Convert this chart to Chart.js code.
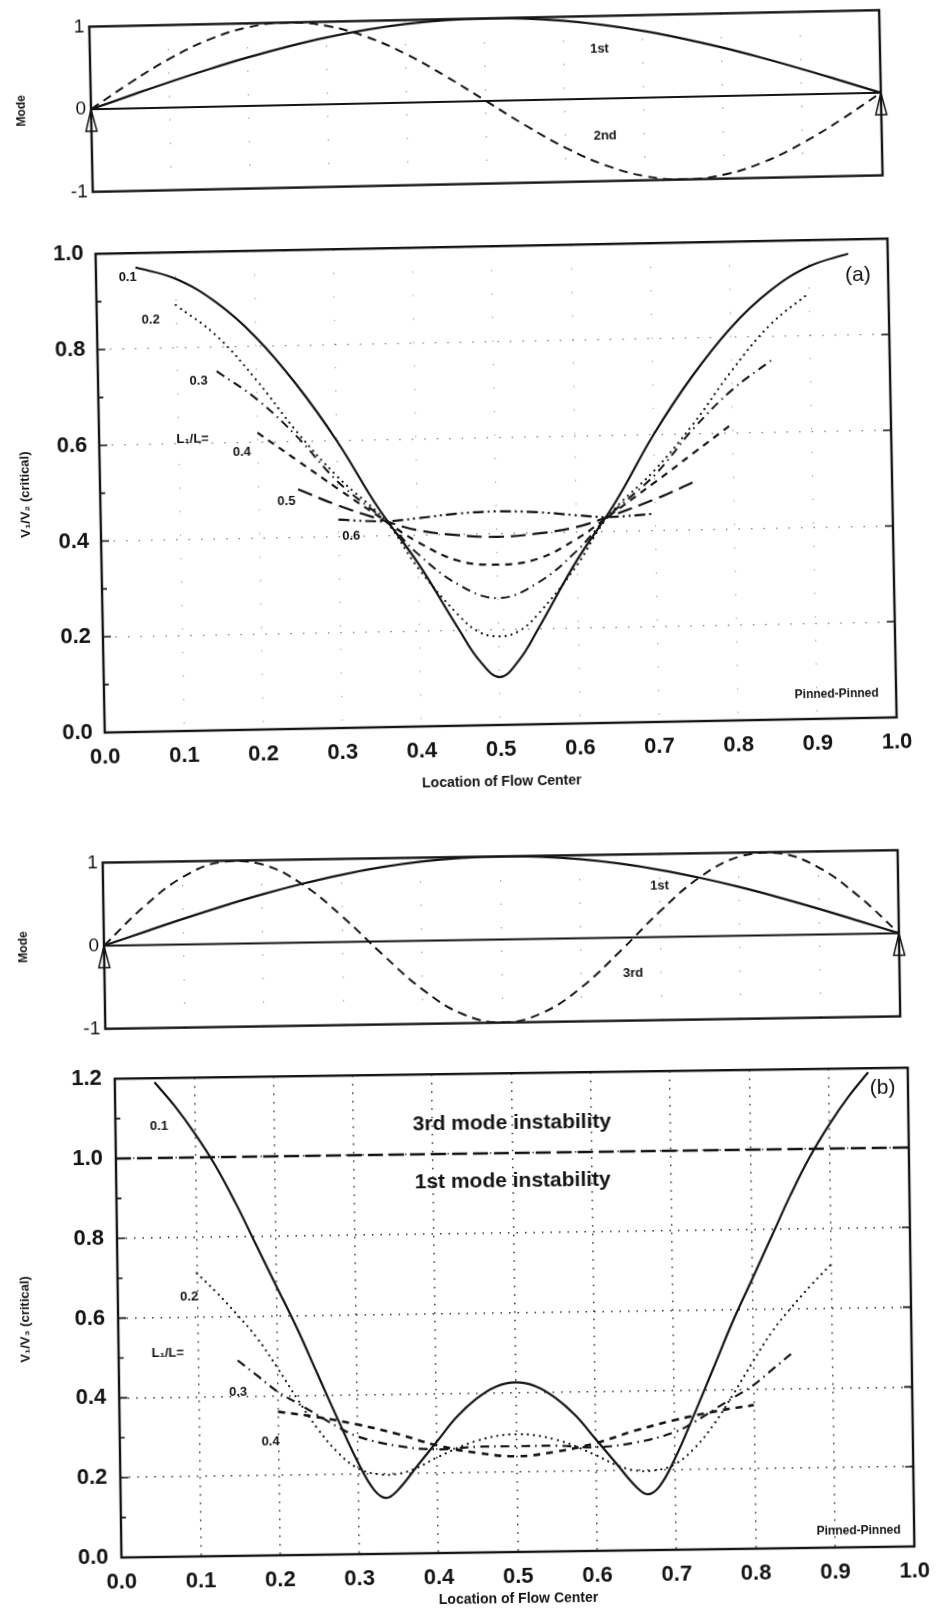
<!DOCTYPE html>
<html lang="en">
<head>
<meta charset="UTF-8">
<title>Critical velocity ratio vs. location of flow center</title>
<script src="https://cdn.jsdelivr.net/npm/chart.js@4"></script>
<style>
  body { margin: 0; background: #fff; width: 941px; height: 1620px; position: relative; overflow: hidden; }
  canvas { position: absolute; }
</style>
</head>
<body>
<canvas id="modeA"></canvas>
<canvas id="ratioA"></canvas>
<canvas id="modeB"></canvas>
<canvas id="ratioB"></canvas>
<script>
// ---- mode shapes along the span (pinned-pinned beam) ----
const spanX = [0, 0.05, 0.1, 0.15, 0.2, 0.25, 0.3, 0.35, 0.4, 0.45, 0.5, 0.55, 0.6, 0.65, 0.7, 0.75, 0.8, 0.85, 0.9, 0.95, 1];
const mode1 = [0, 0.156, 0.309, 0.454, 0.588, 0.707, 0.809, 0.891, 0.951, 0.988, 1, 0.988, 0.951, 0.891, 0.809, 0.707, 0.588, 0.454, 0.309, 0.156, 0];
const mode2 = [0, 0.309, 0.588, 0.809, 0.951, 1, 0.951, 0.809, 0.588, 0.309, 0, -0.309, -0.588, -0.809, -0.951, -1, -0.951, -0.809, -0.588, -0.309, 0];
const mode3 = [0, 0.454, 0.809, 0.988, 0.951, 0.707, 0.309, -0.156, -0.588, -0.891, -1, -0.891, -0.588, -0.156, 0.309, 0.707, 0.951, 0.988, 0.809, 0.454, 0];

// ---- (a) V1/V2 critical, one curve per L1/L ----
const ratiosA = ['0.1', '0.2', '0.3', '0.4', '0.5', '0.6'];
const a1X = [0.05, 0.1, 0.15, 0.2, 0.25, 0.3, 0.35, 0.4, 0.45, 0.475, 0.5, 0.525, 0.55, 0.6, 0.65, 0.7, 0.75, 0.8, 0.85, 0.9, 0.95];
const a1Y = [0.97, 0.945, 0.895, 0.82, 0.72, 0.60, 0.46, 0.34, 0.20, 0.135, 0.10, 0.135, 0.20, 0.34, 0.46, 0.60, 0.72, 0.82, 0.895, 0.945, 0.97];
const a2X = [0.1, 0.15, 0.2, 0.25, 0.3, 0.36, 0.4, 0.45, 0.475, 0.5, 0.525, 0.55, 0.6, 0.64, 0.7, 0.75, 0.8, 0.85, 0.9];
const a2Y = [0.89, 0.825, 0.73, 0.62, 0.525, 0.43, 0.33, 0.23, 0.195, 0.185, 0.195, 0.23, 0.33, 0.43, 0.525, 0.62, 0.73, 0.825, 0.89];
const a3X = [0.15, 0.2, 0.25, 0.3, 0.36, 0.4, 0.45, 0.5, 0.55, 0.6, 0.64, 0.7, 0.75, 0.8, 0.85];
const a3Y = [0.75, 0.69, 0.61, 0.515, 0.43, 0.36, 0.295, 0.265, 0.295, 0.36, 0.43, 0.515, 0.61, 0.69, 0.75];
const a4X = [0.2, 0.25, 0.3, 0.36, 0.4, 0.45, 0.5, 0.55, 0.6, 0.64, 0.7, 0.75, 0.8];
const a4Y = [0.62, 0.56, 0.50, 0.43, 0.385, 0.345, 0.335, 0.345, 0.385, 0.43, 0.50, 0.56, 0.62];
const a5X = [0.25, 0.3, 0.36, 0.4, 0.45, 0.5, 0.55, 0.6, 0.64, 0.7, 0.75];
const a5Y = [0.50, 0.465, 0.43, 0.41, 0.398, 0.393, 0.398, 0.41, 0.43, 0.465, 0.50];
const a6X = [0.3, 0.36, 0.4, 0.45, 0.5, 0.55, 0.6, 0.64, 0.7];
const a6Y = [0.435, 0.43, 0.435, 0.443, 0.446, 0.443, 0.435, 0.43, 0.435];

// ---- (b) V1/V3 critical ----
const ratiosB = ['0.1', '0.2', '0.3', '0.4'];
const b1X = [0.05, 0.075, 0.1, 0.125, 0.15, 0.175, 0.2, 0.225, 0.25, 0.275, 0.3, 0.32, 0.335, 0.35, 0.375, 0.4, 0.425, 0.45, 0.475, 0.5,
             0.525, 0.55, 0.575, 0.6, 0.625, 0.65, 0.665, 0.68, 0.7, 0.725, 0.75, 0.775, 0.8, 0.825, 0.85, 0.875, 0.9, 0.925, 0.95];
const b1Y = [1.19, 1.13, 1.06, 0.98, 0.885, 0.78, 0.675, 0.57, 0.455, 0.34, 0.23, 0.16, 0.14, 0.16, 0.22, 0.28, 0.34, 0.385, 0.415, 0.425,
             0.415, 0.385, 0.34, 0.28, 0.22, 0.16, 0.14, 0.16, 0.23, 0.34, 0.455, 0.57, 0.675, 0.78, 0.885, 0.98, 1.06, 1.13, 1.19];
const b2X = [0.1, 0.125, 0.15, 0.175, 0.2, 0.225, 0.25, 0.275, 0.3, 0.325, 0.35, 0.375, 0.4, 0.45, 0.5,
             0.55, 0.6, 0.625, 0.65, 0.675, 0.7, 0.725, 0.75, 0.775, 0.8, 0.825, 0.85, 0.875, 0.9];
const b2Y = [0.71, 0.66, 0.605, 0.545, 0.47, 0.39, 0.315, 0.255, 0.215, 0.2, 0.2, 0.215, 0.24, 0.28, 0.295,
             0.28, 0.24, 0.215, 0.2, 0.2, 0.215, 0.255, 0.315, 0.39, 0.47, 0.545, 0.605, 0.66, 0.71];
const b3X = [0.15, 0.175, 0.2, 0.225, 0.25, 0.275, 0.3, 0.35, 0.4, 0.45, 0.5, 0.55, 0.6, 0.65, 0.7, 0.725, 0.75, 0.775, 0.8, 0.825, 0.85];
const b3Y = [0.49, 0.45, 0.41, 0.38, 0.35, 0.32, 0.295, 0.27, 0.26, 0.265, 0.265, 0.265, 0.26, 0.27, 0.295, 0.32, 0.35, 0.38, 0.41, 0.45, 0.49];
const b4X = [0.2, 0.25, 0.3, 0.35, 0.4, 0.45, 0.5, 0.55, 0.6, 0.65, 0.7, 0.75, 0.8];
const b4Y = [0.36, 0.345, 0.325, 0.3, 0.27, 0.25, 0.24, 0.25, 0.27, 0.3, 0.325, 0.345, 0.36];
// boundary between 1st and 3rd mode instability
const limitX = [0, 1];
const limitY = [1.0, 1.0];

// ---- ticks ----
const xTicks = [0, 0.1, 0.2, 0.3, 0.4, 0.5, 0.6, 0.7, 0.8, 0.9, 1.0];
const yTicksA = [0, 0.2, 0.4, 0.6, 0.8, 1.0];
const yMinorA = [0.1, 0.3, 0.5, 0.7, 0.9];
const yTicksB = [0, 0.2, 0.4, 0.6, 0.8, 1.0, 1.2];
const yMinorB = [0.1, 0.3, 0.5, 0.7, 0.9, 1.1];
const modeTicks = [-1, 0, 1];

const FONT = "'Liberation Sans', Arial, Helvetica, sans-serif";
const INK = '#141414';
Chart.defaults.font.family = FONT;
Chart.defaults.color = INK;
Chart.defaults.animation = false;

function pts(xs, ys) { return xs.map((x, i) => ({ x: x, y: ys[i] })); }

function curve(xs, ys, dash, width, cap) {
  return {
    data: pts(xs, ys), borderColor: INK, borderWidth: width || 2, borderDash: dash || [],
    borderCapStyle: cap || 'butt', pointRadius: 0, fill: false, tension: 0.4
  };
}

// size and tilt a canvas so its chart area lands on the given box
function place(id, b) {
  const c = document.getElementById(id);
  c.width = b.yW + b.w + b.padR;
  c.height = b.padT + b.h + b.xH + b.padB;
  c.style.left = (b.left - b.yW) + 'px';
  c.style.top = (b.top - b.padT) + 'px';
  c.style.transformOrigin = (b.yW + b.w / 2) + 'px ' + (b.padT + b.h / 2) + 'px';
  c.style.transform = 'rotate(' + b.rot + 'deg)';
  return c;
}

// frame, inward ticks, text notes and pin supports
const framePlugin = {
  id: 'frame',
  afterDatasetsDraw(chart, args, o) {
    const { ctx, chartArea: a, scales } = chart;
    const sx = scales.x, sy = scales.y;
    ctx.save();
    ctx.strokeStyle = INK;
    ctx.lineWidth = 1.6;
    ctx.beginPath();
    (o.major || []).forEach(v => {
      const y = sy.getPixelForValue(v);
      ctx.moveTo(a.left, y); ctx.lineTo(a.left + 8, y);
      ctx.moveTo(a.right, y); ctx.lineTo(a.right - 8, y);
    });
    (o.minor || []).forEach(v => {
      const y = sy.getPixelForValue(v);
      ctx.moveTo(a.left, y); ctx.lineTo(a.left + 5, y);
    });
    ctx.stroke();
    if (o.supports) {
      ctx.lineWidth = 1.5;
      [0, 1].forEach(v => {
        const x = sx.getPixelForValue(v), y = sy.getPixelForValue(0);
        ctx.fillStyle = '#fff';
        ctx.beginPath();
        ctx.moveTo(x, y); ctx.lineTo(x - 5.5, y + 22); ctx.lineTo(x + 5.5, y + 22); ctx.closePath();
        ctx.fill(); ctx.stroke();
      });
    }
    ctx.lineWidth = 2.4;
    ctx.strokeRect(a.left, a.top, a.width, a.height);
    ctx.fillStyle = INK;
    ctx.textAlign = 'center';
    ctx.textBaseline = 'middle';
    (o.notes || []).forEach(n => {
      ctx.font = n.font;
      ctx.fillText(n.text, sx.getPixelForValue(n.x), sy.getPixelForValue(n.y));
    });
    ctx.restore();
  }
};

function xScale(opts) {
  return {
    type: 'linear', min: 0, max: 1,
    afterBuildTicks: s => { s.ticks = xTicks.map(v => ({ value: v })); },
    afterFit: s => { s.height = opts.height; },
    grid: { color: opts.gridColor, lineWidth: opts.gridWidth || 1.2, drawTicks: false },
    border: { display: false, dash: opts.dash },
    ticks: {
      display: opts.labels, padding: 12, autoSkip: false, maxRotation: 0,
      font: { size: 22, weight: 'bold' }, callback: v => v.toFixed(1)
    },
    title: {
      display: opts.labels, text: 'Location of Flow Center',
      font: { size: 14, weight: 'bold' }, padding: 0
    }
  };
}

function yScale(opts) {
  return {
    type: 'linear', min: opts.min, max: opts.max,
    afterBuildTicks: s => { s.ticks = opts.ticks.map(v => ({ value: v })); },
    afterFit: s => { s.width = opts.width; },
    grid: { color: opts.gridColor, lineWidth: opts.gridWidth || 1.2, drawTicks: false },
    border: { display: false, dash: opts.dash },
    ticks: { padding: opts.pad, font: opts.font, callback: opts.fmt },
    title: { display: true, text: opts.title, font: { size: opts.titleSize, weight: 'bold' }, padding: 0 }
  };
}

function makeChart(id, box, datasets, x, y, frame) {
  const c = place(id, box);
  return new Chart(c, {
    type: 'line',
    data: { datasets: datasets },
    options: {
      responsive: false,
      parsing: false,
      layout: { padding: { top: box.padT, right: box.padR, bottom: box.padB, left: 0 } },
      plugins: { legend: { display: false }, tooltip: { enabled: false }, frame: frame },
      scales: { x: x, y: y }
    },
    plugins: [framePlugin]
  });
}

const modeY = (width) => yScale({
  min: -1, max: 1, ticks: modeTicks, width: width, pad: 5, gridColor: 'rgba(0,0,0,0)',
  font: { size: 19 }, fmt: v => String(v), title: 'Mode', titleSize: 12
});
const modeX = () => xScale({ labels: false, height: 0, gridColor: 'rgba(0,0,0,0.35)', dash: [1.5, 22] });
const baseLine = curve([0, 1], [0, 0], [], 2.2);

// ---- top: 1st and 2nd mode ----
makeChart('modeA',
  { left: 91, top: 14, w: 790, h: 180, yW: 77, padT: 12, padR: 14, xH: 0, padB: 6, rot: -1.2 },
  [baseLine, curve(spanX, mode1, [], 2.3), curve(spanX, mode2, [9, 6], 2)],
  modeX(), modeY(77),
  { supports: true, notes: [
    { text: '1st', x: 0.645, y: 0.6, font: 'bold 13px ' + FONT },
    { text: '2nd', x: 0.65, y: -0.45, font: 'bold 13px ' + FONT }
  ] });

// ---- (a) ----
const noteA = 'bold 13px ' + FONT;
makeChart('ratioA',
  { left: 99.5, top: 236.5, w: 792, h: 488, yW: 82, padT: 16, padR: 30, xH: 66, padB: 0, rot: -1.1 },
  [
    curve(a1X, a1Y, [], 2.2),
    curve(a2X, a2Y, [0.1, 6], 2.2, 'round'),
    curve(a3X, a3Y, [9, 5, 1.5, 5], 2),
    curve(a4X, a4Y, [7, 6], 2.2),
    curve(a5X, a5Y, [15, 7], 2.2),
    curve(a6X, a6Y, [11, 4, 2, 4, 2, 4], 2.2)
  ],
  xScale({ labels: true, height: 66, gridColor: 'rgba(0,0,0,0.3)', dash: [1.5, 22] }),
  yScale({ min: 0, max: 1, ticks: yTicksA, width: 82, pad: 12, gridColor: 'rgba(0,0,0,0.5)', dash: [1.5, 11],
           font: { size: 22, weight: 'bold' }, fmt: v => v.toFixed(1), title: 'V₁/V₂ (critical)', titleSize: 13 }),
  { major: yTicksA, minor: yMinorA, notes: [
    { text: ratiosA[0], x: 0.04, y: 0.95, font: noteA },
    { text: ratiosA[1], x: 0.068, y: 0.86, font: noteA },
    { text: ratiosA[2], x: 0.127, y: 0.73, font: noteA },
    { text: 'L₁/L=', x: 0.118, y: 0.61, font: noteA },
    { text: ratiosA[3], x: 0.18, y: 0.58, font: noteA },
    { text: ratiosA[4], x: 0.235, y: 0.476, font: noteA },
    { text: ratiosA[5], x: 0.316, y: 0.40, font: noteA },
    { text: '(a)', x: 0.962, y: 0.925, font: '21px ' + FONT },
    { text: 'Pinned-Pinned', x: 0.925, y: 0.05, font: 'bold 12px ' + FONT }
  ] });

// ---- bottom: 1st and 3rd mode ----
makeChart('modeB',
  { left: 103.5, top: 852, w: 795, h: 181, yW: 88, padT: 12, padR: 14, xH: 0, padB: 6, rot: -0.9 },
  [baseLine, curve(spanX, mode1, [], 2.3), curve(spanX, mode3, [9, 6], 2)],
  modeX(), modeY(88),
  { supports: true, notes: [
    { text: '1st', x: 0.7, y: 0.62, font: 'bold 13px ' + FONT },
    { text: '3rd', x: 0.665, y: -0.43, font: 'bold 13px ' + FONT }
  ] });

// ---- (b) ----
const noteB = 'bold 13px ' + FONT;
makeChart('ratioB',
  { left: 117.5, top: 1062.5, w: 793, h: 489, yW: 100, padT: 16, padR: 30, xH: 56, padB: 0, rot: -0.8 },
  [
    curve(limitX, limitY, [15, 6], 2.6),
    curve(b1X, b1Y, [], 2.2),
    curve(b2X, b2Y, [0.1, 6], 2.2, 'round'),
    curve(b3X, b3Y, [9, 5, 1.5, 5], 2.2),
    curve(b4X, b4Y, [7, 6], 2.6)
  ],
  xScale({ labels: true, height: 56, gridColor: 'rgba(0,0,0,0.8)', gridWidth: 1.5, dash: [1.5, 7] }),
  yScale({ min: 0, max: 1.2, ticks: yTicksB, width: 100, pad: 13, gridColor: 'rgba(0,0,0,0.8)', gridWidth: 1.5, dash: [1.5, 7],
           font: { size: 22, weight: 'bold' }, fmt: v => v.toFixed(1), title: 'V₁/V₃ (critical)', titleSize: 13 }),
  { major: yTicksB, minor: yMinorB, notes: [
    { text: '3rd mode instability', x: 0.5, y: 1.075, font: 'bold 21px ' + FONT },
    { text: '1st mode instability', x: 0.5, y: 0.93, font: 'bold 21px ' + FONT },
    { text: '(b)', x: 0.968, y: 1.15, font: '21px ' + FONT },
    { text: ratiosB[0], x: 0.055, y: 1.08, font: noteB },
    { text: ratiosB[1], x: 0.09, y: 0.65, font: noteB },
    { text: 'L₁/L=', x: 0.062, y: 0.51, font: noteB },
    { text: ratiosB[2], x: 0.15, y: 0.41, font: noteB },
    { text: ratiosB[3], x: 0.19, y: 0.285, font: noteB },
    { text: 'Pinned-Pinned', x: 0.93, y: 0.04, font: 'bold 12px ' + FONT }
  ] });
</script>
</body>
</html>
